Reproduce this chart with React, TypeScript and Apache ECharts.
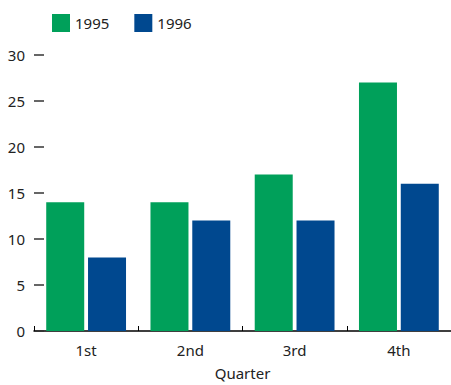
import React, { useEffect, useRef } from "react";
import * as echarts from "echarts";

const categories = ["1st", "2nd", "3rd", "4th"];
const series1995 = [14, 14, 17, 27];
const series1996 = [8, 12, 12, 16];
const seriesNames = ["1995", "1996"];
const colors = ["#00a05a", "#00488f"];

export default function App() {
  const ref = useRef<HTMLDivElement>(null);
  useEffect(() => {
    if (!ref.current) return;
    const chart = echarts.init(ref.current, undefined, { renderer: "svg" });
    const font = "'Noto Sans', sans-serif";
    chart.setOption({
      animation: false,
      textStyle: { fontFamily: font },
      legend: {
        left: 47,
        top: 9,
        itemWidth: 18,
        itemHeight: 18,
        itemGap: 25,
        icon: "rect",
        textStyle: { fontSize: 15, color: "#222", fontFamily: font },
        data: seriesNames,
      },
      grid: { left: 34, right: -1.5, top: 55, bottom: 50.5, containLabel: false },
      xAxis: {
        type: "category",
        data: categories,
        name: "Quarter",
        nameLocation: "middle",
        nameGap: 34,
        nameTextStyle: { fontSize: 15, color: "#222", fontFamily: font },
        axisLine: { show: true, lineStyle: { color: "#000", width: 1.5 } },
        axisTick: { show: true, inside: true, length: 5, lineStyle: { color: "#000" } },
        axisLabel: { fontSize: 15, color: "#222", margin: 11, fontFamily: font },
      },
      yAxis: {
        type: "value",
        min: 0,
        max: 30,
        interval: 5,
        axisLine: { show: false },
        axisTick: { show: true, inside: true, length: 10, lineStyle: { color: "#333", width: 1.5 } },
        splitLine: { show: false },
        axisLabel: { fontSize: 15, color: "#222", margin: 9, fontFamily: font },
      },
      series: [
        {
          name: seriesNames[0],
          type: "bar",
          data: series1995,
          barWidth: 38,
          barGap: "10%",
          itemStyle: { color: colors[0] },
        },
        {
          name: seriesNames[1],
          type: "bar",
          data: series1996,
          barWidth: 38,
          barGap: "10%",
          itemStyle: { color: colors[1] },
        },
      ],
    });
    return () => chart.dispose();
  }, []);
  return (
    <div
      ref={ref}
      style={{ position: "fixed", left: 0, top: 0, width: 451, height: 385, background: "#fff" }}
    />
  );
}
